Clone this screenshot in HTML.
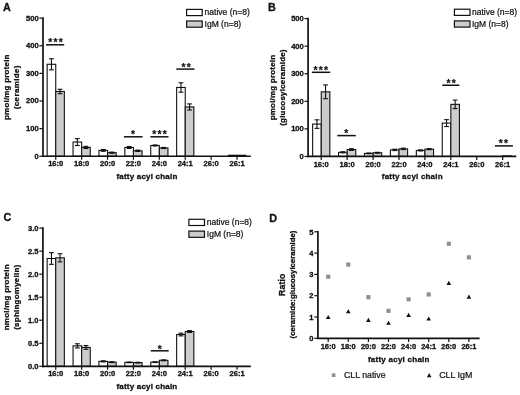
<!DOCTYPE html>
<html><head><meta charset="utf-8"><title>Figure</title>
<style>
html,body{margin:0;padding:0;background:#fff;}
body{width:520px;height:395px;overflow:hidden;}
svg{display:block;font-family:'Liberation Sans', Arial, sans-serif;}
</style></head><body>
<svg width="520" height="395" viewBox="0 0 520 395">
<rect width="520" height="395" fill="#fff"/>
<text x="3.10" y="10.80" font-size="10.8" font-weight="bold" text-anchor="start" fill="#111" stroke="#111" stroke-width="0.3">A</text>
<rect x="47.15" y="64.28" width="8.60" height="91.97" fill="#fff" stroke="#111" stroke-width="1.1"/>
<line x1="51.45" y1="58.75" x2="51.45" y2="69.80" stroke="#111" stroke-width="1.1" stroke-linecap="butt"/>
<line x1="49.05" y1="58.75" x2="53.85" y2="58.75" stroke="#111" stroke-width="1.1" stroke-linecap="butt"/>
<line x1="49.05" y1="69.80" x2="53.85" y2="69.80" stroke="#111" stroke-width="1.1" stroke-linecap="butt"/>
<rect x="55.75" y="91.48" width="8.60" height="64.77" fill="#cccccc" stroke="#111" stroke-width="1.1"/>
<line x1="60.05" y1="89.27" x2="60.05" y2="93.69" stroke="#111" stroke-width="1.1" stroke-linecap="butt"/>
<line x1="57.65" y1="89.27" x2="62.45" y2="89.27" stroke="#111" stroke-width="1.1" stroke-linecap="butt"/>
<line x1="57.65" y1="93.69" x2="62.45" y2="93.69" stroke="#111" stroke-width="1.1" stroke-linecap="butt"/>
<rect x="73.05" y="142.05" width="8.60" height="14.20" fill="#fff" stroke="#111" stroke-width="1.1"/>
<line x1="77.35" y1="138.60" x2="77.35" y2="145.51" stroke="#111" stroke-width="1.1" stroke-linecap="butt"/>
<line x1="74.95" y1="138.60" x2="79.75" y2="138.60" stroke="#111" stroke-width="1.1" stroke-linecap="butt"/>
<line x1="74.95" y1="145.51" x2="79.75" y2="145.51" stroke="#111" stroke-width="1.1" stroke-linecap="butt"/>
<rect x="81.65" y="147.41" width="8.60" height="8.84" fill="#cccccc" stroke="#111" stroke-width="1.1"/>
<line x1="85.95" y1="146.31" x2="85.95" y2="148.52" stroke="#111" stroke-width="1.1" stroke-linecap="butt"/>
<line x1="83.55" y1="146.31" x2="88.35" y2="146.31" stroke="#111" stroke-width="1.1" stroke-linecap="butt"/>
<line x1="83.55" y1="148.52" x2="88.35" y2="148.52" stroke="#111" stroke-width="1.1" stroke-linecap="butt"/>
<rect x="98.95" y="150.39" width="8.60" height="5.86" fill="#fff" stroke="#111" stroke-width="1.1"/>
<line x1="103.25" y1="149.48" x2="103.25" y2="151.31" stroke="#111" stroke-width="1.1" stroke-linecap="butt"/>
<line x1="100.85" y1="149.48" x2="105.65" y2="149.48" stroke="#111" stroke-width="1.1" stroke-linecap="butt"/>
<line x1="100.85" y1="151.31" x2="105.65" y2="151.31" stroke="#111" stroke-width="1.1" stroke-linecap="butt"/>
<rect x="107.55" y="152.66" width="8.60" height="3.59" fill="#cccccc" stroke="#111" stroke-width="1.1"/>
<line x1="111.85" y1="152.11" x2="111.85" y2="153.21" stroke="#111" stroke-width="1.1" stroke-linecap="butt"/>
<line x1="109.45" y1="152.11" x2="114.25" y2="152.11" stroke="#111" stroke-width="1.1" stroke-linecap="butt"/>
<line x1="109.45" y1="153.21" x2="114.25" y2="153.21" stroke="#111" stroke-width="1.1" stroke-linecap="butt"/>
<rect x="124.85" y="147.47" width="8.60" height="8.78" fill="#fff" stroke="#111" stroke-width="1.1"/>
<line x1="129.15" y1="146.50" x2="129.15" y2="148.43" stroke="#111" stroke-width="1.1" stroke-linecap="butt"/>
<line x1="126.75" y1="146.50" x2="131.55" y2="146.50" stroke="#111" stroke-width="1.1" stroke-linecap="butt"/>
<line x1="126.75" y1="148.43" x2="131.55" y2="148.43" stroke="#111" stroke-width="1.1" stroke-linecap="butt"/>
<rect x="133.45" y="150.78" width="8.60" height="5.47" fill="#cccccc" stroke="#111" stroke-width="1.1"/>
<line x1="137.75" y1="150.09" x2="137.75" y2="151.47" stroke="#111" stroke-width="1.1" stroke-linecap="butt"/>
<line x1="135.35" y1="150.09" x2="140.15" y2="150.09" stroke="#111" stroke-width="1.1" stroke-linecap="butt"/>
<line x1="135.35" y1="151.47" x2="140.15" y2="151.47" stroke="#111" stroke-width="1.1" stroke-linecap="butt"/>
<rect x="150.75" y="145.48" width="8.60" height="10.77" fill="#fff" stroke="#111" stroke-width="1.1"/>
<line x1="155.05" y1="144.93" x2="155.05" y2="146.03" stroke="#111" stroke-width="1.1" stroke-linecap="butt"/>
<line x1="152.65" y1="144.93" x2="157.45" y2="144.93" stroke="#111" stroke-width="1.1" stroke-linecap="butt"/>
<line x1="152.65" y1="146.03" x2="157.45" y2="146.03" stroke="#111" stroke-width="1.1" stroke-linecap="butt"/>
<rect x="159.35" y="147.96" width="8.60" height="8.29" fill="#cccccc" stroke="#111" stroke-width="1.1"/>
<line x1="163.65" y1="147.41" x2="163.65" y2="148.52" stroke="#111" stroke-width="1.1" stroke-linecap="butt"/>
<line x1="161.25" y1="147.41" x2="166.05" y2="147.41" stroke="#111" stroke-width="1.1" stroke-linecap="butt"/>
<line x1="161.25" y1="148.52" x2="166.05" y2="148.52" stroke="#111" stroke-width="1.1" stroke-linecap="butt"/>
<rect x="176.65" y="87.48" width="8.60" height="68.77" fill="#fff" stroke="#111" stroke-width="1.1"/>
<line x1="180.95" y1="82.78" x2="180.95" y2="92.17" stroke="#111" stroke-width="1.1" stroke-linecap="butt"/>
<line x1="178.55" y1="82.78" x2="183.35" y2="82.78" stroke="#111" stroke-width="1.1" stroke-linecap="butt"/>
<line x1="178.55" y1="92.17" x2="183.35" y2="92.17" stroke="#111" stroke-width="1.1" stroke-linecap="butt"/>
<rect x="185.25" y="106.95" width="8.60" height="49.30" fill="#cccccc" stroke="#111" stroke-width="1.1"/>
<line x1="189.55" y1="103.91" x2="189.55" y2="109.99" stroke="#111" stroke-width="1.1" stroke-linecap="butt"/>
<line x1="187.15" y1="103.91" x2="191.95" y2="103.91" stroke="#111" stroke-width="1.1" stroke-linecap="butt"/>
<line x1="187.15" y1="109.99" x2="191.95" y2="109.99" stroke="#111" stroke-width="1.1" stroke-linecap="butt"/>
<rect x="228.45" y="155.28" width="8.60" height="0.97" fill="#fff" stroke="#111" stroke-width="1.1"/>
<rect x="237.05" y="155.28" width="8.60" height="0.97" fill="#cccccc" stroke="#111" stroke-width="1.1"/>
<line x1="43.00" y1="17.30" x2="43.00" y2="157.10" stroke="#111" stroke-width="1.7" stroke-linecap="butt"/>
<line x1="42.15" y1="156.25" x2="250.80" y2="156.25" stroke="#111" stroke-width="1.7" stroke-linecap="butt"/>
<line x1="39.40" y1="156.25" x2="43.00" y2="156.25" stroke="#111" stroke-width="1.2" stroke-linecap="butt"/>
<text x="38.70" y="158.70" font-size="7.6" font-weight="bold" text-anchor="end" fill="#111" stroke="#111" stroke-width="0.3">0</text>
<line x1="39.40" y1="128.63" x2="43.00" y2="128.63" stroke="#111" stroke-width="1.2" stroke-linecap="butt"/>
<text x="38.70" y="131.08" font-size="7.6" font-weight="bold" text-anchor="end" fill="#111" stroke="#111" stroke-width="0.3">100</text>
<line x1="39.40" y1="101.01" x2="43.00" y2="101.01" stroke="#111" stroke-width="1.2" stroke-linecap="butt"/>
<text x="38.70" y="103.46" font-size="7.6" font-weight="bold" text-anchor="end" fill="#111" stroke="#111" stroke-width="0.3">200</text>
<line x1="39.40" y1="73.39" x2="43.00" y2="73.39" stroke="#111" stroke-width="1.2" stroke-linecap="butt"/>
<text x="38.70" y="75.84" font-size="7.6" font-weight="bold" text-anchor="end" fill="#111" stroke="#111" stroke-width="0.3">300</text>
<line x1="39.40" y1="45.77" x2="43.00" y2="45.77" stroke="#111" stroke-width="1.2" stroke-linecap="butt"/>
<text x="38.70" y="48.22" font-size="7.6" font-weight="bold" text-anchor="end" fill="#111" stroke="#111" stroke-width="0.3">400</text>
<line x1="39.40" y1="18.15" x2="43.00" y2="18.15" stroke="#111" stroke-width="1.2" stroke-linecap="butt"/>
<text x="38.70" y="20.60" font-size="7.6" font-weight="bold" text-anchor="end" fill="#111" stroke="#111" stroke-width="0.3">500</text>
<line x1="55.75" y1="156.25" x2="55.75" y2="159.75" stroke="#111" stroke-width="1.2" stroke-linecap="butt"/>
<text x="55.75" y="166.30" font-size="7.6" font-weight="bold" text-anchor="middle" fill="#111" stroke="#111" stroke-width="0.3">16:0</text>
<line x1="81.65" y1="156.25" x2="81.65" y2="159.75" stroke="#111" stroke-width="1.2" stroke-linecap="butt"/>
<text x="81.65" y="166.30" font-size="7.6" font-weight="bold" text-anchor="middle" fill="#111" stroke="#111" stroke-width="0.3">18:0</text>
<line x1="107.55" y1="156.25" x2="107.55" y2="159.75" stroke="#111" stroke-width="1.2" stroke-linecap="butt"/>
<text x="107.55" y="166.30" font-size="7.6" font-weight="bold" text-anchor="middle" fill="#111" stroke="#111" stroke-width="0.3">20:0</text>
<line x1="133.45" y1="156.25" x2="133.45" y2="159.75" stroke="#111" stroke-width="1.2" stroke-linecap="butt"/>
<text x="133.45" y="166.30" font-size="7.6" font-weight="bold" text-anchor="middle" fill="#111" stroke="#111" stroke-width="0.3">22:0</text>
<line x1="159.35" y1="156.25" x2="159.35" y2="159.75" stroke="#111" stroke-width="1.2" stroke-linecap="butt"/>
<text x="159.35" y="166.30" font-size="7.6" font-weight="bold" text-anchor="middle" fill="#111" stroke="#111" stroke-width="0.3">24:0</text>
<line x1="185.25" y1="156.25" x2="185.25" y2="159.75" stroke="#111" stroke-width="1.2" stroke-linecap="butt"/>
<text x="185.25" y="166.30" font-size="7.6" font-weight="bold" text-anchor="middle" fill="#111" stroke="#111" stroke-width="0.3">24:1</text>
<line x1="211.15" y1="156.25" x2="211.15" y2="159.75" stroke="#111" stroke-width="1.2" stroke-linecap="butt"/>
<text x="211.15" y="166.30" font-size="7.6" font-weight="bold" text-anchor="middle" fill="#111" stroke="#111" stroke-width="0.3">26:0</text>
<line x1="237.05" y1="156.25" x2="237.05" y2="159.75" stroke="#111" stroke-width="1.2" stroke-linecap="butt"/>
<text x="237.05" y="166.30" font-size="7.6" font-weight="bold" text-anchor="middle" fill="#111" stroke="#111" stroke-width="0.3">26:1</text>
<text x="147.00" y="178.60" font-size="8.0" font-weight="bold" text-anchor="middle" fill="#111" stroke="#111" stroke-width="0.3" letter-spacing="0.2">fatty acyl chain</text>
<text x="9.40" y="87.20" font-size="8.0" font-weight="bold" text-anchor="middle" fill="#111" stroke="#111" stroke-width="0.3" transform="rotate(-90 9.40 87.20)" letter-spacing="0.2">pmol/mg protein</text>
<text x="19.40" y="87.20" font-size="8.0" font-weight="bold" text-anchor="middle" fill="#111" stroke="#111" stroke-width="0.3" transform="rotate(-90 19.40 87.20)" letter-spacing="0.36">(ceramide)</text>
<line x1="46.00" y1="44.80" x2="64.20" y2="44.80" stroke="#111" stroke-width="1.5" stroke-linecap="butt"/>
<text x="48.35" y="46.00" font-size="10.3" font-weight="bold" letter-spacing="1.24" fill="#111" stroke="#111" stroke-width="0.2">***</text>
<line x1="123.90" y1="136.80" x2="142.60" y2="136.80" stroke="#111" stroke-width="1.5" stroke-linecap="butt"/>
<text x="130.95" y="138.20" font-size="10.3" font-weight="bold" letter-spacing="1.24" fill="#111" stroke="#111" stroke-width="0.2">*</text>
<line x1="150.40" y1="136.80" x2="168.50" y2="136.80" stroke="#111" stroke-width="1.5" stroke-linecap="butt"/>
<text x="152.30" y="138.20" font-size="10.3" font-weight="bold" letter-spacing="1.24" fill="#111" stroke="#111" stroke-width="0.2">***</text>
<line x1="176.30" y1="69.10" x2="194.50" y2="69.10" stroke="#111" stroke-width="1.5" stroke-linecap="butt"/>
<text x="181.57" y="71.00" font-size="10.3" font-weight="bold" letter-spacing="1.24" fill="#111" stroke="#111" stroke-width="0.2">**</text>
<rect x="186.60" y="9.40" width="15.6" height="6.2" fill="#fff" stroke="#111" stroke-width="1.2"/>
<rect x="186.60" y="21.00" width="15.6" height="6.2" fill="#cccccc" stroke="#111" stroke-width="1.2"/>
<text x="204.60" y="15.20" font-size="8.5" font-weight="normal" text-anchor="start" fill="#111" stroke="#111" stroke-width="0.22">native (n=8)</text>
<text x="204.60" y="26.80" font-size="8.5" font-weight="normal" text-anchor="start" fill="#111" stroke="#111" stroke-width="0.22">IgM (n=8)</text>
<text x="268.00" y="10.80" font-size="10.8" font-weight="bold" text-anchor="start" fill="#111" stroke="#111" stroke-width="0.3">B</text>
<rect x="312.65" y="124.08" width="8.60" height="32.37" fill="#fff" stroke="#111" stroke-width="1.1"/>
<line x1="316.95" y1="119.81" x2="316.95" y2="128.36" stroke="#111" stroke-width="1.1" stroke-linecap="butt"/>
<line x1="314.55" y1="119.81" x2="319.35" y2="119.81" stroke="#111" stroke-width="1.1" stroke-linecap="butt"/>
<line x1="314.55" y1="128.36" x2="319.35" y2="128.36" stroke="#111" stroke-width="1.1" stroke-linecap="butt"/>
<rect x="321.25" y="91.83" width="8.60" height="64.62" fill="#cccccc" stroke="#111" stroke-width="1.1"/>
<line x1="325.55" y1="84.93" x2="325.55" y2="98.72" stroke="#111" stroke-width="1.1" stroke-linecap="butt"/>
<line x1="323.15" y1="84.93" x2="327.95" y2="84.93" stroke="#111" stroke-width="1.1" stroke-linecap="butt"/>
<line x1="323.15" y1="98.72" x2="327.95" y2="98.72" stroke="#111" stroke-width="1.1" stroke-linecap="butt"/>
<rect x="338.57" y="152.31" width="8.60" height="4.14" fill="#fff" stroke="#111" stroke-width="1.1"/>
<line x1="342.87" y1="151.76" x2="342.87" y2="152.87" stroke="#111" stroke-width="1.1" stroke-linecap="butt"/>
<line x1="340.47" y1="151.76" x2="345.27" y2="151.76" stroke="#111" stroke-width="1.1" stroke-linecap="butt"/>
<line x1="340.47" y1="152.87" x2="345.27" y2="152.87" stroke="#111" stroke-width="1.1" stroke-linecap="butt"/>
<rect x="347.17" y="149.56" width="8.60" height="6.89" fill="#cccccc" stroke="#111" stroke-width="1.1"/>
<line x1="351.47" y1="148.73" x2="351.47" y2="150.38" stroke="#111" stroke-width="1.1" stroke-linecap="butt"/>
<line x1="349.07" y1="148.73" x2="353.87" y2="148.73" stroke="#111" stroke-width="1.1" stroke-linecap="butt"/>
<line x1="349.07" y1="150.38" x2="353.87" y2="150.38" stroke="#111" stroke-width="1.1" stroke-linecap="butt"/>
<rect x="364.49" y="153.42" width="8.60" height="3.03" fill="#fff" stroke="#111" stroke-width="1.1"/>
<line x1="368.79" y1="153.00" x2="368.79" y2="153.83" stroke="#111" stroke-width="1.1" stroke-linecap="butt"/>
<line x1="366.39" y1="153.00" x2="371.19" y2="153.00" stroke="#111" stroke-width="1.1" stroke-linecap="butt"/>
<line x1="366.39" y1="153.83" x2="371.19" y2="153.83" stroke="#111" stroke-width="1.1" stroke-linecap="butt"/>
<rect x="373.09" y="152.73" width="8.60" height="3.72" fill="#cccccc" stroke="#111" stroke-width="1.1"/>
<line x1="377.39" y1="152.31" x2="377.39" y2="153.14" stroke="#111" stroke-width="1.1" stroke-linecap="butt"/>
<line x1="374.99" y1="152.31" x2="379.79" y2="152.31" stroke="#111" stroke-width="1.1" stroke-linecap="butt"/>
<line x1="374.99" y1="153.14" x2="379.79" y2="153.14" stroke="#111" stroke-width="1.1" stroke-linecap="butt"/>
<rect x="390.41" y="149.89" width="8.60" height="6.56" fill="#fff" stroke="#111" stroke-width="1.1"/>
<line x1="394.71" y1="149.20" x2="394.71" y2="150.58" stroke="#111" stroke-width="1.1" stroke-linecap="butt"/>
<line x1="392.31" y1="149.20" x2="397.11" y2="149.20" stroke="#111" stroke-width="1.1" stroke-linecap="butt"/>
<line x1="392.31" y1="150.58" x2="397.11" y2="150.58" stroke="#111" stroke-width="1.1" stroke-linecap="butt"/>
<rect x="399.01" y="148.87" width="8.60" height="7.58" fill="#cccccc" stroke="#111" stroke-width="1.1"/>
<line x1="403.31" y1="148.18" x2="403.31" y2="149.56" stroke="#111" stroke-width="1.1" stroke-linecap="butt"/>
<line x1="400.91" y1="148.18" x2="405.71" y2="148.18" stroke="#111" stroke-width="1.1" stroke-linecap="butt"/>
<line x1="400.91" y1="149.56" x2="405.71" y2="149.56" stroke="#111" stroke-width="1.1" stroke-linecap="butt"/>
<rect x="416.33" y="150.44" width="8.60" height="6.01" fill="#fff" stroke="#111" stroke-width="1.1"/>
<line x1="420.63" y1="149.89" x2="420.63" y2="150.99" stroke="#111" stroke-width="1.1" stroke-linecap="butt"/>
<line x1="418.23" y1="149.89" x2="423.03" y2="149.89" stroke="#111" stroke-width="1.1" stroke-linecap="butt"/>
<line x1="418.23" y1="150.99" x2="423.03" y2="150.99" stroke="#111" stroke-width="1.1" stroke-linecap="butt"/>
<rect x="424.93" y="149.14" width="8.60" height="7.31" fill="#cccccc" stroke="#111" stroke-width="1.1"/>
<line x1="429.23" y1="148.59" x2="429.23" y2="149.70" stroke="#111" stroke-width="1.1" stroke-linecap="butt"/>
<line x1="426.83" y1="148.59" x2="431.63" y2="148.59" stroke="#111" stroke-width="1.1" stroke-linecap="butt"/>
<line x1="426.83" y1="149.70" x2="431.63" y2="149.70" stroke="#111" stroke-width="1.1" stroke-linecap="butt"/>
<rect x="442.25" y="123.09" width="8.60" height="33.36" fill="#fff" stroke="#111" stroke-width="1.1"/>
<line x1="446.55" y1="119.64" x2="446.55" y2="126.54" stroke="#111" stroke-width="1.1" stroke-linecap="butt"/>
<line x1="444.15" y1="119.64" x2="448.95" y2="119.64" stroke="#111" stroke-width="1.1" stroke-linecap="butt"/>
<line x1="444.15" y1="126.54" x2="448.95" y2="126.54" stroke="#111" stroke-width="1.1" stroke-linecap="butt"/>
<rect x="450.85" y="104.34" width="8.60" height="52.11" fill="#cccccc" stroke="#111" stroke-width="1.1"/>
<line x1="455.15" y1="100.07" x2="455.15" y2="108.62" stroke="#111" stroke-width="1.1" stroke-linecap="butt"/>
<line x1="452.75" y1="100.07" x2="457.55" y2="100.07" stroke="#111" stroke-width="1.1" stroke-linecap="butt"/>
<line x1="452.75" y1="108.62" x2="457.55" y2="108.62" stroke="#111" stroke-width="1.1" stroke-linecap="butt"/>
<rect x="502.69" y="155.90" width="8.60" height="0.55" fill="#cccccc" stroke="#111" stroke-width="1.1"/>
<line x1="308.10" y1="17.75" x2="308.10" y2="157.30" stroke="#111" stroke-width="1.7" stroke-linecap="butt"/>
<line x1="307.25" y1="156.45" x2="516.30" y2="156.45" stroke="#111" stroke-width="1.7" stroke-linecap="butt"/>
<line x1="304.50" y1="156.45" x2="308.10" y2="156.45" stroke="#111" stroke-width="1.2" stroke-linecap="butt"/>
<text x="303.80" y="158.90" font-size="7.6" font-weight="bold" text-anchor="end" fill="#111" stroke="#111" stroke-width="0.3">0</text>
<line x1="304.50" y1="128.88" x2="308.10" y2="128.88" stroke="#111" stroke-width="1.2" stroke-linecap="butt"/>
<text x="303.80" y="131.33" font-size="7.6" font-weight="bold" text-anchor="end" fill="#111" stroke="#111" stroke-width="0.3">100</text>
<line x1="304.50" y1="101.31" x2="308.10" y2="101.31" stroke="#111" stroke-width="1.2" stroke-linecap="butt"/>
<text x="303.80" y="103.76" font-size="7.6" font-weight="bold" text-anchor="end" fill="#111" stroke="#111" stroke-width="0.3">200</text>
<line x1="304.50" y1="73.74" x2="308.10" y2="73.74" stroke="#111" stroke-width="1.2" stroke-linecap="butt"/>
<text x="303.80" y="76.19" font-size="7.6" font-weight="bold" text-anchor="end" fill="#111" stroke="#111" stroke-width="0.3">300</text>
<line x1="304.50" y1="46.17" x2="308.10" y2="46.17" stroke="#111" stroke-width="1.2" stroke-linecap="butt"/>
<text x="303.80" y="48.62" font-size="7.6" font-weight="bold" text-anchor="end" fill="#111" stroke="#111" stroke-width="0.3">400</text>
<line x1="304.50" y1="18.60" x2="308.10" y2="18.60" stroke="#111" stroke-width="1.2" stroke-linecap="butt"/>
<text x="303.80" y="21.05" font-size="7.6" font-weight="bold" text-anchor="end" fill="#111" stroke="#111" stroke-width="0.3">500</text>
<line x1="321.25" y1="156.45" x2="321.25" y2="159.95" stroke="#111" stroke-width="1.2" stroke-linecap="butt"/>
<text x="321.25" y="166.60" font-size="7.6" font-weight="bold" text-anchor="middle" fill="#111" stroke="#111" stroke-width="0.3">16:0</text>
<line x1="347.17" y1="156.45" x2="347.17" y2="159.95" stroke="#111" stroke-width="1.2" stroke-linecap="butt"/>
<text x="347.17" y="166.60" font-size="7.6" font-weight="bold" text-anchor="middle" fill="#111" stroke="#111" stroke-width="0.3">18:0</text>
<line x1="373.09" y1="156.45" x2="373.09" y2="159.95" stroke="#111" stroke-width="1.2" stroke-linecap="butt"/>
<text x="373.09" y="166.60" font-size="7.6" font-weight="bold" text-anchor="middle" fill="#111" stroke="#111" stroke-width="0.3">20:0</text>
<line x1="399.01" y1="156.45" x2="399.01" y2="159.95" stroke="#111" stroke-width="1.2" stroke-linecap="butt"/>
<text x="399.01" y="166.60" font-size="7.6" font-weight="bold" text-anchor="middle" fill="#111" stroke="#111" stroke-width="0.3">22:0</text>
<line x1="424.93" y1="156.45" x2="424.93" y2="159.95" stroke="#111" stroke-width="1.2" stroke-linecap="butt"/>
<text x="424.93" y="166.60" font-size="7.6" font-weight="bold" text-anchor="middle" fill="#111" stroke="#111" stroke-width="0.3">24:0</text>
<line x1="450.85" y1="156.45" x2="450.85" y2="159.95" stroke="#111" stroke-width="1.2" stroke-linecap="butt"/>
<text x="450.85" y="166.60" font-size="7.6" font-weight="bold" text-anchor="middle" fill="#111" stroke="#111" stroke-width="0.3">24:1</text>
<line x1="476.77" y1="156.45" x2="476.77" y2="159.95" stroke="#111" stroke-width="1.2" stroke-linecap="butt"/>
<text x="476.77" y="166.60" font-size="7.6" font-weight="bold" text-anchor="middle" fill="#111" stroke="#111" stroke-width="0.3">26:0</text>
<line x1="502.69" y1="156.45" x2="502.69" y2="159.95" stroke="#111" stroke-width="1.2" stroke-linecap="butt"/>
<text x="502.69" y="166.60" font-size="7.6" font-weight="bold" text-anchor="middle" fill="#111" stroke="#111" stroke-width="0.3">26:1</text>
<text x="412.30" y="178.90" font-size="8.0" font-weight="bold" text-anchor="middle" fill="#111" stroke="#111" stroke-width="0.3" letter-spacing="0.2">fatty acyl chain</text>
<text x="274.70" y="87.52" font-size="8.0" font-weight="bold" text-anchor="middle" fill="#111" stroke="#111" stroke-width="0.3" transform="rotate(-90 274.70 87.52)" letter-spacing="0.2">pmol/mg protein</text>
<text x="284.70" y="87.52" font-size="8.0" font-weight="bold" text-anchor="middle" fill="#111" stroke="#111" stroke-width="0.3" transform="rotate(-90 284.70 87.52)" letter-spacing="0.2">(glucosylceramide)</text>
<line x1="311.90" y1="72.30" x2="330.20" y2="72.30" stroke="#111" stroke-width="1.5" stroke-linecap="butt"/>
<text x="313.40" y="73.50" font-size="10.3" font-weight="bold" letter-spacing="1.24" fill="#111" stroke="#111" stroke-width="0.2">***</text>
<line x1="337.30" y1="135.60" x2="355.80" y2="135.60" stroke="#111" stroke-width="1.5" stroke-linecap="butt"/>
<text x="344.25" y="137.20" font-size="10.3" font-weight="bold" letter-spacing="1.24" fill="#111" stroke="#111" stroke-width="0.2">*</text>
<line x1="442.30" y1="85.25" x2="459.40" y2="85.25" stroke="#111" stroke-width="1.5" stroke-linecap="butt"/>
<text x="446.42" y="86.85" font-size="10.3" font-weight="bold" letter-spacing="1.24" fill="#111" stroke="#111" stroke-width="0.2">**</text>
<line x1="494.90" y1="145.90" x2="512.90" y2="145.90" stroke="#111" stroke-width="1.5" stroke-linecap="butt"/>
<text x="498.67" y="147.00" font-size="10.3" font-weight="bold" letter-spacing="1.24" fill="#111" stroke="#111" stroke-width="0.2">**</text>
<rect x="454.40" y="9.20" width="15.6" height="6.2" fill="#fff" stroke="#111" stroke-width="1.2"/>
<rect x="454.40" y="20.90" width="15.6" height="6.2" fill="#cccccc" stroke="#111" stroke-width="1.2"/>
<text x="472.00" y="15.00" font-size="8.5" font-weight="normal" text-anchor="start" fill="#111" stroke="#111" stroke-width="0.22">native (n=8)</text>
<text x="472.00" y="26.70" font-size="8.5" font-weight="normal" text-anchor="start" fill="#111" stroke="#111" stroke-width="0.22">IgM (n=8)</text>
<text x="3.40" y="221.40" font-size="10.8" font-weight="bold" text-anchor="start" fill="#111" stroke="#111" stroke-width="0.3">C</text>
<rect x="47.15" y="258.50" width="8.60" height="107.80" fill="#fff" stroke="#111" stroke-width="1.1"/>
<line x1="51.45" y1="252.65" x2="51.45" y2="264.35" stroke="#111" stroke-width="1.1" stroke-linecap="butt"/>
<line x1="49.05" y1="252.65" x2="53.85" y2="252.65" stroke="#111" stroke-width="1.1" stroke-linecap="butt"/>
<line x1="49.05" y1="264.35" x2="53.85" y2="264.35" stroke="#111" stroke-width="1.1" stroke-linecap="butt"/>
<rect x="55.75" y="257.81" width="8.60" height="108.49" fill="#cccccc" stroke="#111" stroke-width="1.1"/>
<line x1="60.05" y1="253.76" x2="60.05" y2="261.87" stroke="#111" stroke-width="1.1" stroke-linecap="butt"/>
<line x1="57.65" y1="253.76" x2="62.45" y2="253.76" stroke="#111" stroke-width="1.1" stroke-linecap="butt"/>
<line x1="57.65" y1="261.87" x2="62.45" y2="261.87" stroke="#111" stroke-width="1.1" stroke-linecap="butt"/>
<rect x="73.05" y="345.85" width="8.60" height="20.45" fill="#fff" stroke="#111" stroke-width="1.1"/>
<line x1="77.35" y1="343.77" x2="77.35" y2="347.92" stroke="#111" stroke-width="1.1" stroke-linecap="butt"/>
<line x1="74.95" y1="343.77" x2="79.75" y2="343.77" stroke="#111" stroke-width="1.1" stroke-linecap="butt"/>
<line x1="74.95" y1="347.92" x2="79.75" y2="347.92" stroke="#111" stroke-width="1.1" stroke-linecap="butt"/>
<rect x="81.65" y="347.41" width="8.60" height="18.89" fill="#cccccc" stroke="#111" stroke-width="1.1"/>
<line x1="85.95" y1="345.57" x2="85.95" y2="349.26" stroke="#111" stroke-width="1.1" stroke-linecap="butt"/>
<line x1="83.55" y1="345.57" x2="88.35" y2="345.57" stroke="#111" stroke-width="1.1" stroke-linecap="butt"/>
<line x1="83.55" y1="349.26" x2="88.35" y2="349.26" stroke="#111" stroke-width="1.1" stroke-linecap="butt"/>
<rect x="98.95" y="361.37" width="8.60" height="4.93" fill="#fff" stroke="#111" stroke-width="1.1"/>
<line x1="103.25" y1="360.82" x2="103.25" y2="361.92" stroke="#111" stroke-width="1.1" stroke-linecap="butt"/>
<line x1="100.85" y1="360.82" x2="105.65" y2="360.82" stroke="#111" stroke-width="1.1" stroke-linecap="butt"/>
<line x1="100.85" y1="361.92" x2="105.65" y2="361.92" stroke="#111" stroke-width="1.1" stroke-linecap="butt"/>
<rect x="107.55" y="362.15" width="8.60" height="4.15" fill="#cccccc" stroke="#111" stroke-width="1.1"/>
<line x1="111.85" y1="361.69" x2="111.85" y2="362.61" stroke="#111" stroke-width="1.1" stroke-linecap="butt"/>
<line x1="109.45" y1="361.69" x2="114.25" y2="361.69" stroke="#111" stroke-width="1.1" stroke-linecap="butt"/>
<line x1="109.45" y1="362.61" x2="114.25" y2="362.61" stroke="#111" stroke-width="1.1" stroke-linecap="butt"/>
<rect x="124.85" y="362.38" width="8.60" height="3.92" fill="#fff" stroke="#111" stroke-width="1.1"/>
<line x1="129.15" y1="362.02" x2="129.15" y2="362.75" stroke="#111" stroke-width="1.1" stroke-linecap="butt"/>
<line x1="126.75" y1="362.02" x2="131.55" y2="362.02" stroke="#111" stroke-width="1.1" stroke-linecap="butt"/>
<line x1="126.75" y1="362.75" x2="131.55" y2="362.75" stroke="#111" stroke-width="1.1" stroke-linecap="butt"/>
<rect x="133.45" y="362.61" width="8.60" height="3.69" fill="#cccccc" stroke="#111" stroke-width="1.1"/>
<line x1="137.75" y1="362.25" x2="137.75" y2="362.98" stroke="#111" stroke-width="1.1" stroke-linecap="butt"/>
<line x1="135.35" y1="362.25" x2="140.15" y2="362.25" stroke="#111" stroke-width="1.1" stroke-linecap="butt"/>
<line x1="135.35" y1="362.98" x2="140.15" y2="362.98" stroke="#111" stroke-width="1.1" stroke-linecap="butt"/>
<rect x="150.75" y="362.15" width="8.60" height="4.15" fill="#fff" stroke="#111" stroke-width="1.1"/>
<line x1="155.05" y1="361.79" x2="155.05" y2="362.52" stroke="#111" stroke-width="1.1" stroke-linecap="butt"/>
<line x1="152.65" y1="361.79" x2="157.45" y2="361.79" stroke="#111" stroke-width="1.1" stroke-linecap="butt"/>
<line x1="152.65" y1="362.52" x2="157.45" y2="362.52" stroke="#111" stroke-width="1.1" stroke-linecap="butt"/>
<rect x="159.35" y="360.31" width="8.60" height="5.99" fill="#cccccc" stroke="#111" stroke-width="1.1"/>
<line x1="163.65" y1="359.85" x2="163.65" y2="360.77" stroke="#111" stroke-width="1.1" stroke-linecap="butt"/>
<line x1="161.25" y1="359.85" x2="166.05" y2="359.85" stroke="#111" stroke-width="1.1" stroke-linecap="butt"/>
<line x1="161.25" y1="360.77" x2="166.05" y2="360.77" stroke="#111" stroke-width="1.1" stroke-linecap="butt"/>
<rect x="176.65" y="334.51" width="8.60" height="31.79" fill="#fff" stroke="#111" stroke-width="1.1"/>
<line x1="180.95" y1="333.13" x2="180.95" y2="335.90" stroke="#111" stroke-width="1.1" stroke-linecap="butt"/>
<line x1="178.55" y1="333.13" x2="183.35" y2="333.13" stroke="#111" stroke-width="1.1" stroke-linecap="butt"/>
<line x1="178.55" y1="335.90" x2="183.35" y2="335.90" stroke="#111" stroke-width="1.1" stroke-linecap="butt"/>
<rect x="185.25" y="331.52" width="8.60" height="34.78" fill="#cccccc" stroke="#111" stroke-width="1.1"/>
<line x1="189.55" y1="330.60" x2="189.55" y2="332.44" stroke="#111" stroke-width="1.1" stroke-linecap="butt"/>
<line x1="187.15" y1="330.60" x2="191.95" y2="330.60" stroke="#111" stroke-width="1.1" stroke-linecap="butt"/>
<line x1="187.15" y1="332.44" x2="191.95" y2="332.44" stroke="#111" stroke-width="1.1" stroke-linecap="butt"/>
<line x1="42.90" y1="227.25" x2="42.90" y2="367.15" stroke="#111" stroke-width="1.7" stroke-linecap="butt"/>
<line x1="42.05" y1="366.30" x2="250.80" y2="366.30" stroke="#111" stroke-width="1.7" stroke-linecap="butt"/>
<line x1="39.30" y1="366.30" x2="42.90" y2="366.30" stroke="#111" stroke-width="1.2" stroke-linecap="butt"/>
<text x="38.60" y="368.75" font-size="7.6" font-weight="bold" text-anchor="end" fill="#111" stroke="#111" stroke-width="0.3">0.0</text>
<line x1="39.30" y1="343.27" x2="42.90" y2="343.27" stroke="#111" stroke-width="1.2" stroke-linecap="butt"/>
<text x="38.60" y="345.72" font-size="7.6" font-weight="bold" text-anchor="end" fill="#111" stroke="#111" stroke-width="0.3">0.5</text>
<line x1="39.30" y1="320.23" x2="42.90" y2="320.23" stroke="#111" stroke-width="1.2" stroke-linecap="butt"/>
<text x="38.60" y="322.68" font-size="7.6" font-weight="bold" text-anchor="end" fill="#111" stroke="#111" stroke-width="0.3">1.0</text>
<line x1="39.30" y1="297.20" x2="42.90" y2="297.20" stroke="#111" stroke-width="1.2" stroke-linecap="butt"/>
<text x="38.60" y="299.65" font-size="7.6" font-weight="bold" text-anchor="end" fill="#111" stroke="#111" stroke-width="0.3">1.5</text>
<line x1="39.30" y1="274.17" x2="42.90" y2="274.17" stroke="#111" stroke-width="1.2" stroke-linecap="butt"/>
<text x="38.60" y="276.62" font-size="7.6" font-weight="bold" text-anchor="end" fill="#111" stroke="#111" stroke-width="0.3">2.0</text>
<line x1="39.30" y1="251.13" x2="42.90" y2="251.13" stroke="#111" stroke-width="1.2" stroke-linecap="butt"/>
<text x="38.60" y="253.58" font-size="7.6" font-weight="bold" text-anchor="end" fill="#111" stroke="#111" stroke-width="0.3">2.5</text>
<line x1="39.30" y1="228.10" x2="42.90" y2="228.10" stroke="#111" stroke-width="1.2" stroke-linecap="butt"/>
<text x="38.60" y="230.55" font-size="7.6" font-weight="bold" text-anchor="end" fill="#111" stroke="#111" stroke-width="0.3">3.0</text>
<line x1="55.75" y1="366.30" x2="55.75" y2="369.80" stroke="#111" stroke-width="1.2" stroke-linecap="butt"/>
<text x="55.75" y="376.00" font-size="7.6" font-weight="bold" text-anchor="middle" fill="#111" stroke="#111" stroke-width="0.3">16:0</text>
<line x1="81.65" y1="366.30" x2="81.65" y2="369.80" stroke="#111" stroke-width="1.2" stroke-linecap="butt"/>
<text x="81.65" y="376.00" font-size="7.6" font-weight="bold" text-anchor="middle" fill="#111" stroke="#111" stroke-width="0.3">18:0</text>
<line x1="107.55" y1="366.30" x2="107.55" y2="369.80" stroke="#111" stroke-width="1.2" stroke-linecap="butt"/>
<text x="107.55" y="376.00" font-size="7.6" font-weight="bold" text-anchor="middle" fill="#111" stroke="#111" stroke-width="0.3">20:0</text>
<line x1="133.45" y1="366.30" x2="133.45" y2="369.80" stroke="#111" stroke-width="1.2" stroke-linecap="butt"/>
<text x="133.45" y="376.00" font-size="7.6" font-weight="bold" text-anchor="middle" fill="#111" stroke="#111" stroke-width="0.3">22:0</text>
<line x1="159.35" y1="366.30" x2="159.35" y2="369.80" stroke="#111" stroke-width="1.2" stroke-linecap="butt"/>
<text x="159.35" y="376.00" font-size="7.6" font-weight="bold" text-anchor="middle" fill="#111" stroke="#111" stroke-width="0.3">24:0</text>
<line x1="185.25" y1="366.30" x2="185.25" y2="369.80" stroke="#111" stroke-width="1.2" stroke-linecap="butt"/>
<text x="185.25" y="376.00" font-size="7.6" font-weight="bold" text-anchor="middle" fill="#111" stroke="#111" stroke-width="0.3">24:1</text>
<line x1="211.15" y1="366.30" x2="211.15" y2="369.80" stroke="#111" stroke-width="1.2" stroke-linecap="butt"/>
<text x="211.15" y="376.00" font-size="7.6" font-weight="bold" text-anchor="middle" fill="#111" stroke="#111" stroke-width="0.3">26:0</text>
<line x1="237.05" y1="366.30" x2="237.05" y2="369.80" stroke="#111" stroke-width="1.2" stroke-linecap="butt"/>
<text x="237.05" y="376.00" font-size="7.6" font-weight="bold" text-anchor="middle" fill="#111" stroke="#111" stroke-width="0.3">26:1</text>
<text x="146.95" y="389.10" font-size="8.0" font-weight="bold" text-anchor="middle" fill="#111" stroke="#111" stroke-width="0.3" letter-spacing="0.2">fatty acyl chain</text>
<text x="9.40" y="297.20" font-size="8.0" font-weight="bold" text-anchor="middle" fill="#111" stroke="#111" stroke-width="0.3" transform="rotate(-90 9.40 297.20)" letter-spacing="0.23">nmol/mg protein</text>
<text x="19.40" y="297.20" font-size="8.0" font-weight="bold" text-anchor="middle" fill="#111" stroke="#111" stroke-width="0.3" transform="rotate(-90 19.40 297.20)" letter-spacing="0.23">(sphingomyelin)</text>
<line x1="150.80" y1="350.80" x2="168.70" y2="350.80" stroke="#111" stroke-width="1.5" stroke-linecap="butt"/>
<text x="157.65" y="352.50" font-size="10.3" font-weight="bold" letter-spacing="1.24" fill="#111" stroke="#111" stroke-width="0.2">*</text>
<rect x="188.90" y="219.30" width="15.6" height="6.2" fill="#fff" stroke="#111" stroke-width="1.2"/>
<rect x="188.90" y="231.10" width="15.6" height="6.2" fill="#cccccc" stroke="#111" stroke-width="1.2"/>
<text x="206.80" y="225.10" font-size="8.5" font-weight="normal" text-anchor="start" fill="#111" stroke="#111" stroke-width="0.22">native (n=8)</text>
<text x="206.80" y="236.90" font-size="8.5" font-weight="normal" text-anchor="start" fill="#111" stroke="#111" stroke-width="0.22">IgM (n=8)</text>
<text x="269.30" y="222.30" font-size="10.8" font-weight="bold" text-anchor="start" fill="#111" stroke="#111" stroke-width="0.3">D</text>
<line x1="317.90" y1="231.10" x2="317.90" y2="339.00" stroke="#111" stroke-width="1.7" stroke-linecap="butt"/>
<line x1="317.20" y1="338.30" x2="479.60" y2="338.30" stroke="#111" stroke-width="1.7" stroke-linecap="butt"/>
<line x1="314.30" y1="338.30" x2="317.90" y2="338.30" stroke="#111" stroke-width="1.2" stroke-linecap="butt"/>
<text x="313.30" y="341.00" font-size="7.5" font-weight="bold" text-anchor="end" fill="#111" stroke="#111" stroke-width="0.3">0</text>
<line x1="314.30" y1="317.00" x2="317.90" y2="317.00" stroke="#111" stroke-width="1.2" stroke-linecap="butt"/>
<text x="313.30" y="319.70" font-size="7.5" font-weight="bold" text-anchor="end" fill="#111" stroke="#111" stroke-width="0.3">1</text>
<line x1="314.30" y1="295.70" x2="317.90" y2="295.70" stroke="#111" stroke-width="1.2" stroke-linecap="butt"/>
<text x="313.30" y="298.40" font-size="7.5" font-weight="bold" text-anchor="end" fill="#111" stroke="#111" stroke-width="0.3">2</text>
<line x1="314.30" y1="274.40" x2="317.90" y2="274.40" stroke="#111" stroke-width="1.2" stroke-linecap="butt"/>
<text x="313.30" y="277.10" font-size="7.5" font-weight="bold" text-anchor="end" fill="#111" stroke="#111" stroke-width="0.3">3</text>
<line x1="314.30" y1="253.10" x2="317.90" y2="253.10" stroke="#111" stroke-width="1.2" stroke-linecap="butt"/>
<text x="313.30" y="255.80" font-size="7.5" font-weight="bold" text-anchor="end" fill="#111" stroke="#111" stroke-width="0.3">4</text>
<line x1="314.30" y1="231.80" x2="317.90" y2="231.80" stroke="#111" stroke-width="1.2" stroke-linecap="butt"/>
<text x="313.30" y="234.50" font-size="7.5" font-weight="bold" text-anchor="end" fill="#111" stroke="#111" stroke-width="0.3">5</text>
<line x1="328.20" y1="338.30" x2="328.20" y2="341.90" stroke="#111" stroke-width="1.2" stroke-linecap="butt"/>
<text x="328.20" y="349.40" font-size="7.5" font-weight="bold" text-anchor="middle" fill="#111" stroke="#111" stroke-width="0.3">16:0</text>
<rect x="326.10" y="274.64" width="4.2" height="4.2" fill="#919191"/>
<polygon points="328.20,314.91 325.90,319.11 330.50,319.11" fill="#111"/>
<line x1="348.30" y1="338.30" x2="348.30" y2="341.90" stroke="#111" stroke-width="1.2" stroke-linecap="butt"/>
<text x="348.30" y="349.40" font-size="7.5" font-weight="bold" text-anchor="middle" fill="#111" stroke="#111" stroke-width="0.3">18:0</text>
<rect x="346.20" y="262.50" width="4.2" height="4.2" fill="#919191"/>
<polygon points="348.30,309.16 346.00,313.36 350.60,313.36" fill="#111"/>
<line x1="368.40" y1="338.30" x2="368.40" y2="341.90" stroke="#111" stroke-width="1.2" stroke-linecap="butt"/>
<text x="368.40" y="349.40" font-size="7.5" font-weight="bold" text-anchor="middle" fill="#111" stroke="#111" stroke-width="0.3">20:0</text>
<rect x="366.30" y="295.09" width="4.2" height="4.2" fill="#919191"/>
<polygon points="368.40,317.68 366.10,321.88 370.70,321.88" fill="#111"/>
<line x1="388.50" y1="338.30" x2="388.50" y2="341.90" stroke="#111" stroke-width="1.2" stroke-linecap="butt"/>
<text x="388.50" y="349.40" font-size="7.5" font-weight="bold" text-anchor="middle" fill="#111" stroke="#111" stroke-width="0.3">22:0</text>
<rect x="386.40" y="308.72" width="4.2" height="4.2" fill="#919191"/>
<polygon points="388.50,320.66 386.20,324.86 390.80,324.86" fill="#111"/>
<line x1="408.60" y1="338.30" x2="408.60" y2="341.90" stroke="#111" stroke-width="1.2" stroke-linecap="butt"/>
<text x="408.60" y="349.40" font-size="7.5" font-weight="bold" text-anchor="middle" fill="#111" stroke="#111" stroke-width="0.3">24:0</text>
<rect x="406.50" y="297.22" width="4.2" height="4.2" fill="#919191"/>
<polygon points="408.60,312.78 406.30,316.98 410.90,316.98" fill="#111"/>
<line x1="428.70" y1="338.30" x2="428.70" y2="341.90" stroke="#111" stroke-width="1.2" stroke-linecap="butt"/>
<text x="428.70" y="349.40" font-size="7.5" font-weight="bold" text-anchor="middle" fill="#111" stroke="#111" stroke-width="0.3">24:1</text>
<rect x="426.60" y="292.32" width="4.2" height="4.2" fill="#919191"/>
<polygon points="428.70,316.40 426.40,320.60 431.00,320.60" fill="#111"/>
<line x1="448.80" y1="338.30" x2="448.80" y2="341.90" stroke="#111" stroke-width="1.2" stroke-linecap="butt"/>
<text x="448.80" y="349.40" font-size="7.5" font-weight="bold" text-anchor="middle" fill="#111" stroke="#111" stroke-width="0.3">26:0</text>
<rect x="446.70" y="241.63" width="4.2" height="4.2" fill="#919191"/>
<polygon points="448.80,280.83 446.50,285.03 451.10,285.03" fill="#111"/>
<line x1="468.90" y1="338.30" x2="468.90" y2="341.90" stroke="#111" stroke-width="1.2" stroke-linecap="butt"/>
<text x="468.90" y="349.40" font-size="7.5" font-weight="bold" text-anchor="middle" fill="#111" stroke="#111" stroke-width="0.3">26:1</text>
<rect x="466.80" y="255.26" width="4.2" height="4.2" fill="#919191"/>
<polygon points="468.90,294.46 466.60,298.66 471.20,298.66" fill="#111"/>
<text x="398.80" y="361.50" font-size="8.0" font-weight="bold" text-anchor="middle" fill="#111" stroke="#111" stroke-width="0.3" letter-spacing="0.25">fatty acyl chain</text>
<text x="285.50" y="284.80" font-size="8.7" font-weight="bold" text-anchor="middle" fill="#111" stroke="#111" stroke-width="0.3" transform="rotate(-90 285.50 284.80)" letter-spacing="0.1">Ratio</text>
<text x="295.40" y="284.50" font-size="7.8" font-weight="bold" text-anchor="middle" fill="#111" stroke="#111" stroke-width="0.3" transform="rotate(-90 295.40 284.50)">(ceramide:glucosylceramide)</text>
<rect x="331.8" y="373.4" width="3.6" height="3.6" fill="#919191"/>
<text x="344.00" y="378.40" font-size="8.75" font-weight="normal" text-anchor="start" fill="#111" stroke="#111" stroke-width="0.22">CLL native</text>
<polygon points="429.2,373.1 426.9,377.3 431.5,377.3" fill="#111"/>
<text x="439.20" y="378.40" font-size="8.9" font-weight="normal" text-anchor="start" fill="#111" stroke="#111" stroke-width="0.22">CLL IgM</text>
</svg>
</body></html>
